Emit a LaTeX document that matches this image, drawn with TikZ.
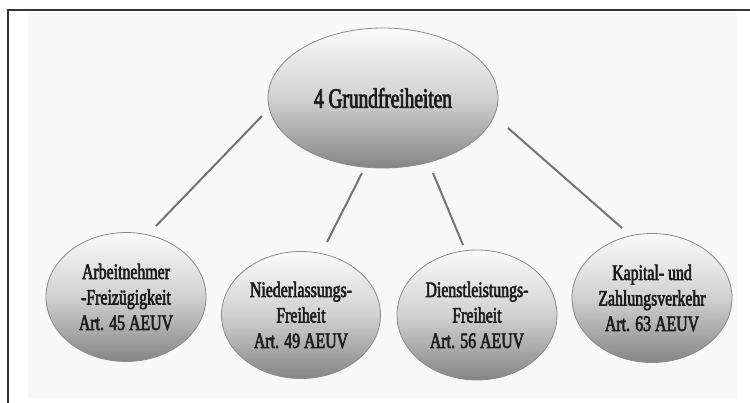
\documentclass[tikz,border=0pt]{standalone}
\usepackage{fontspec}
\setmainfont{Liberation Serif}
\newfontfamily\condfont[FakeStretch=0.72,FakeBold=2.6]{Liberation Serif}
\newfontfamily\condfontL[FakeStretch=0.69,FakeBold=2.8]{Liberation Serif}
\usetikzlibrary{shapes.geometric}
\definecolor{rim}{HTML}{8A8A8A}
\definecolor{linkgray}{HTML}{747474}
\definecolor{txt}{HTML}{1C1C1C}
\definecolor{shadetop}{HTML}{FAFAFA}
\definecolor{shadebot}{HTML}{858585}
\definecolor{bgfaint}{HTML}{F8F8F8}
\tikzset{
  bubble/.style={ellipse, draw=rim, line width=0.8pt, inner sep=0pt,
    top color=shadetop, bottom color=shadebot, middle color=black!18,
    text=txt, align=center, font=\condfont\fontsize{22}{25.5}\selectfont},
  bigbubble/.style={bubble, font=\condfontL\fontsize{28}{30}\selectfont},
  link/.style={draw=linkgray, line width=2pt},
  frameline/.style={draw=black!80, line width=1.6pt}
}
\begin{document}
\begin{tikzpicture}[x=1pt,y=-1pt]
\useasboundingbox (0,0) rectangle (750,403);
\fill[bgfaint] (28,13) rectangle (737,398);
\draw[frameline] (8,404) -- (8,10) -- (751,10);
\node[bigbubble, minimum width=230pt, minimum height=140pt] (top) at (383,98) {4 Grundfreiheiten};
\node[bubble, minimum width=160pt, minimum height=129pt] (an) at (126,297) {Arbeitnehmer\\-Freizügigkeit\\Art. 45 AEUV};
\node[bubble, minimum width=159pt, minimum height=127pt] (nf) at (301,315) {Niederlassungs-\\Freiheit\\Art. 49 AEUV};
\node[bubble, minimum width=160pt, minimum height=130pt] (df) at (477,315) {Dienstleistungs-\\Freiheit\\Art. 56 AEUV};
\node[bubble, minimum width=160pt, minimum height=129pt] (kz) at (652,298) {Kapital- und\\Zahlungsverkehr\\Art. 63 AEUV};
\coordinate (a1) at (262,116); \coordinate (b1) at (156,226);
\coordinate (a2) at (362,173); \coordinate (b2) at (327,242);
\coordinate (a3) at (433,173); \coordinate (b3) at (463,245);
\coordinate (a4) at (508,128); \coordinate (b4) at (622,228);
\draw[link] (a1) -- (b1);
\draw[link] (a2) -- (b2);
\draw[link] (a3) -- (b3);
\draw[link] (a4) -- (b4);
\end{tikzpicture}
\end{document}
